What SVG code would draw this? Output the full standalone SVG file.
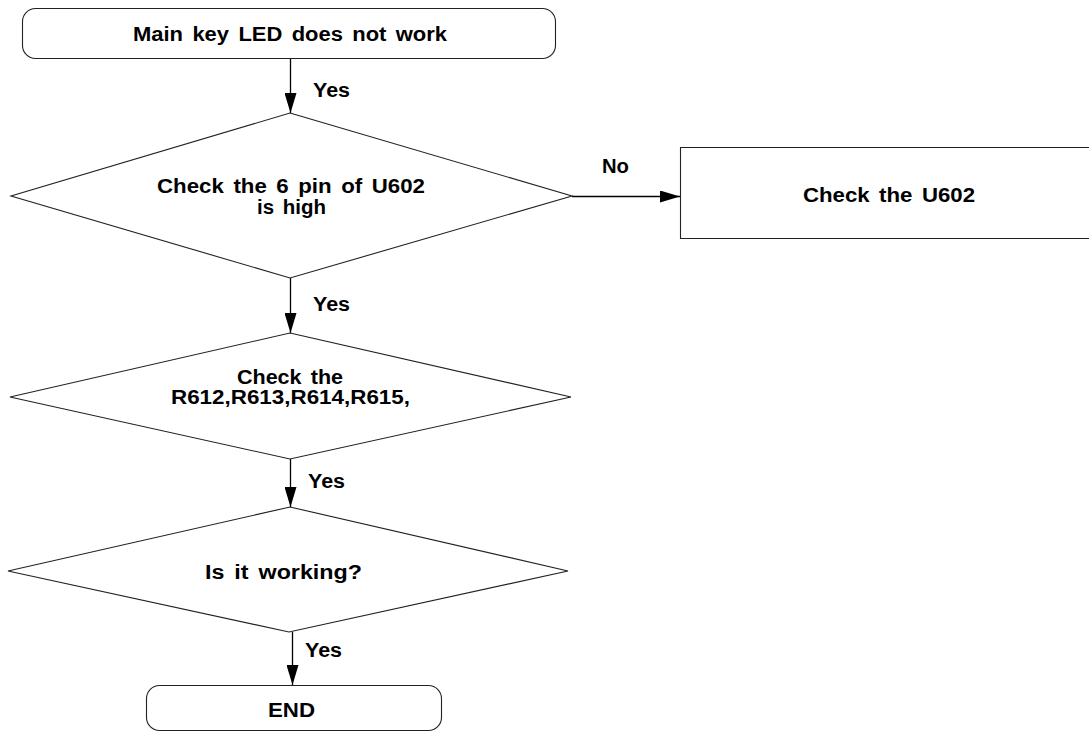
<svg xmlns="http://www.w3.org/2000/svg" width="1089" height="732" viewBox="0 0 1089 732">
<style>
.shape{fill:#fff;stroke:#222;stroke-width:1.1}
.conn{fill:none;stroke:#000;stroke-width:1.3}
text{font-family:"Liberation Sans",Arial,sans-serif;font-weight:bold;font-size:20px;fill:#000;word-spacing:3px}
.c{text-anchor:middle}
</style>
<defs>
<marker id="arr" viewBox="0 0 20 12" refX="20" refY="6" markerWidth="20" markerHeight="12" markerUnits="userSpaceOnUse" orient="auto">
<path d="M0,0 L20,6 L0,12 Z" fill="#000"/>
</marker>
</defs>
<rect width="1089" height="732" fill="#fff"/>
<g id="connectors">
<line class="conn" x1="290.5" y1="58" x2="290.5" y2="113" marker-end="url(#arr)"/>
<line class="conn" x1="572" y1="196.5" x2="680" y2="196.5" marker-end="url(#arr)"/>
<line class="conn" x1="290.5" y1="278" x2="290.5" y2="333" marker-end="url(#arr)"/>
<line class="conn" x1="290.5" y1="459" x2="290.5" y2="507" marker-end="url(#arr)"/>
<line class="conn" x1="292.5" y1="632" x2="292.5" y2="685" marker-end="url(#arr)"/>
<text x="313" y="97" textLength="37" lengthAdjust="spacingAndGlyphs">Yes</text>
<text x="602" y="173" textLength="27" lengthAdjust="spacingAndGlyphs">No</text>
<text x="313" y="311" textLength="37" lengthAdjust="spacingAndGlyphs">Yes</text>
<text x="308" y="488" textLength="37" lengthAdjust="spacingAndGlyphs">Yes</text>
<text x="305" y="657" textLength="37" lengthAdjust="spacingAndGlyphs">Yes</text>
</g>
<g id="start">
<rect class="shape" x="22.5" y="8.5" width="533" height="50" rx="13" ry="13"/>
<text class="c" x="290" y="41" textLength="314" lengthAdjust="spacingAndGlyphs">Main key LED does not work</text>
</g>
<g id="decision1">
<polygon class="shape" points="290,113 572,196 290,278 11,196"/>
<text class="c" x="291" y="193" textLength="268" lengthAdjust="spacingAndGlyphs">Check the 6 pin of U602</text>
<text class="c" x="291.5" y="214" textLength="69" lengthAdjust="spacingAndGlyphs">is high</text>
</g>
<g id="checkU602">
<path class="shape" d="M1095,147.5 H680.5 V238.5 H1095"/>
<text class="c" x="889" y="202" textLength="172" lengthAdjust="spacingAndGlyphs">Check the U602</text>
</g>
<g id="decision2">
<polygon class="shape" points="290,333 571,397 290,459 10,397"/>
<text class="c" x="290" y="384" textLength="106" lengthAdjust="spacingAndGlyphs">Check the</text>
<text class="c" x="290.5" y="404" textLength="239" lengthAdjust="spacingAndGlyphs">R612,R613,R614,R615,</text>
</g>
<g id="decision3">
<polygon class="shape" points="290,507 568,571 289,632 8,571"/>
<text class="c" x="283.5" y="579" textLength="157" lengthAdjust="spacingAndGlyphs">Is it working?</text>
</g>
<g id="end">
<rect class="shape" x="146.5" y="685.5" width="295" height="45" rx="13" ry="13"/>
<text class="c" x="291.5" y="717" textLength="47" lengthAdjust="spacingAndGlyphs">END</text>
</g>
</svg>
